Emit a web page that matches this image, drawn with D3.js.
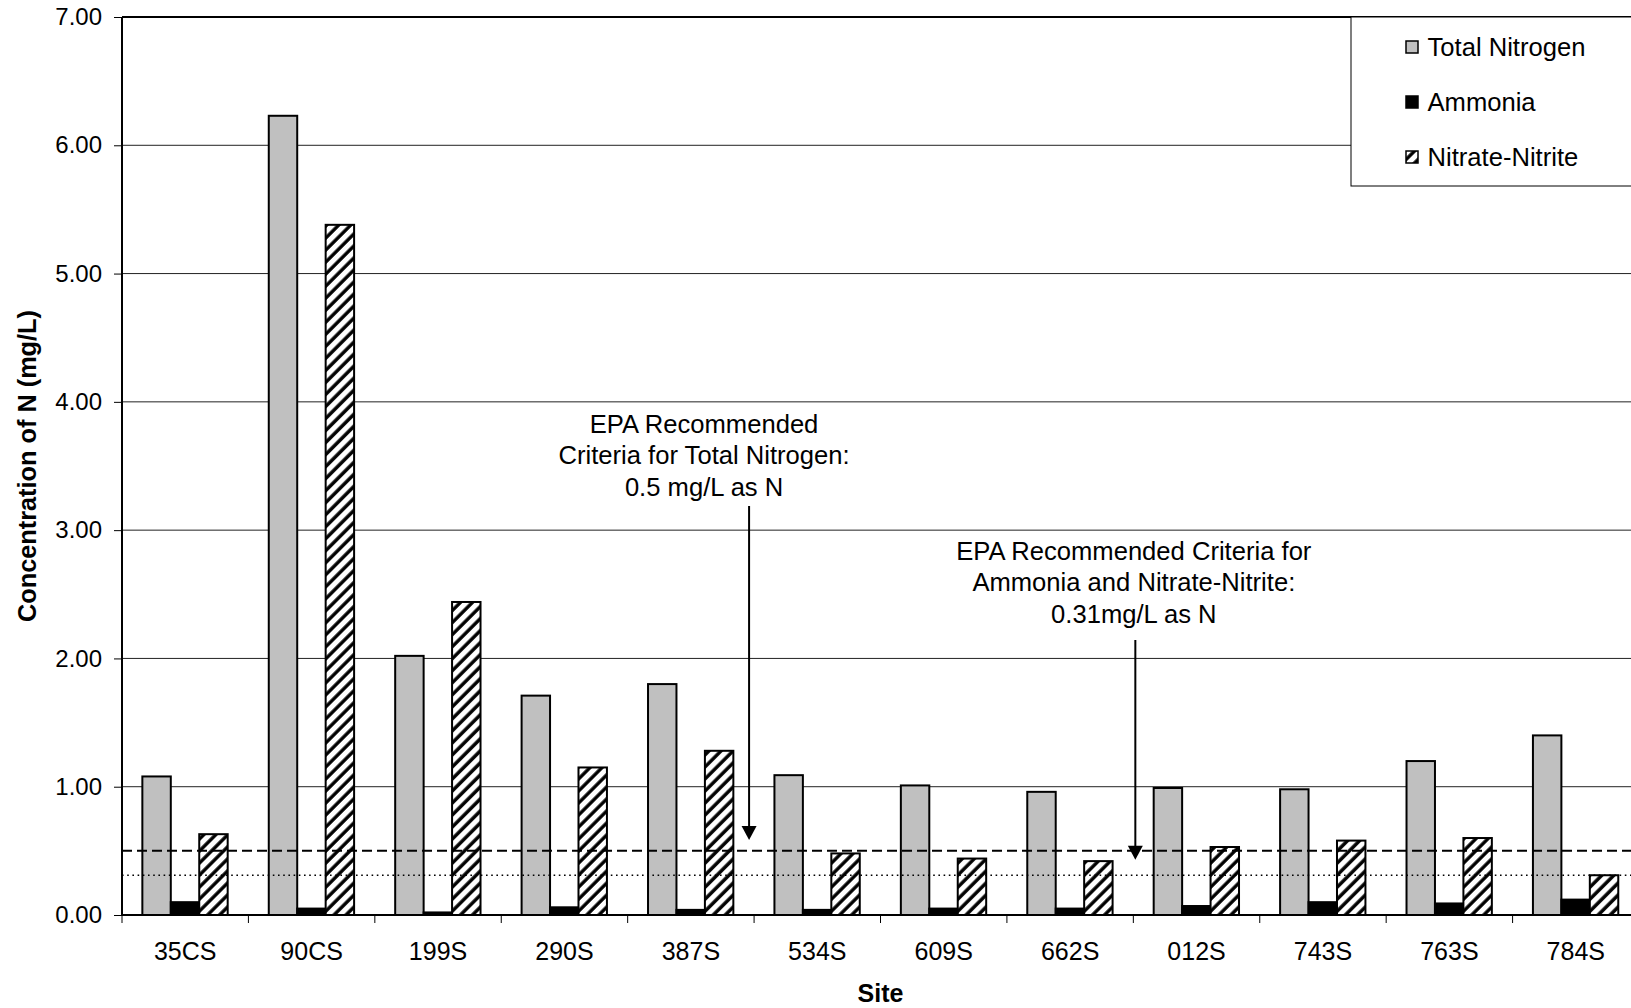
<!DOCTYPE html>
<html>
<head>
<meta charset="utf-8">
<script src="https://cdn.jsdelivr.net/npm/d3@7"></script>
<style>
  html, body { margin: 0; padding: 0; background: #fff; }
  svg { display: block; }
  text { font-family: "Liberation Sans", Arial, sans-serif; fill: #000; }
</style>
</head>
<body>
<svg id="chart" width="1631" height="1008"></svg>
<script>
// Sampling sites along the x axis
const sites = ["35CS", "90CS", "199S", "290S", "387S", "534S", "609S", "662S", "012S", "743S", "763S", "784S"];

// Concentrations of N (mg/L) per site
const totalNitrogen = [1.08, 6.23, 2.02, 1.71, 1.80, 1.09, 1.01, 0.96, 0.99, 0.98, 1.20, 1.40];
const ammonia       = [0.10, 0.05, 0.02, 0.06, 0.04, 0.04, 0.05, 0.05, 0.07, 0.10, 0.09, 0.12];
const nitrateNitrite = [0.63, 5.38, 2.44, 1.15, 1.28, 0.48, 0.44, 0.42, 0.53, 0.58, 0.60, 0.31];

const seriesNames = ["Total Nitrogen", "Ammonia", "Nitrate-Nitrite"];
const yTicks = [0, 1, 2, 3, 4, 5, 6, 7];

// EPA recommended criteria (mg/L as N)
const tnCriterion = 0.5;
const nCriterion = 0.31;

const svg = d3.select("#chart");
const W = 1631, H = 1008;
const margin = { left: 122, top: 17, bottom: 93 };
const plotRight = 1639;               // plot area runs slightly past the page edge
const plotBottom = H - margin.bottom;
const FONT = "Liberation Sans, Arial, sans-serif";

const x = d3.scaleBand().domain(sites).range([margin.left, plotRight]).paddingInner(0).paddingOuter(0);
const bw = x.bandwidth();
const xs = d3.scaleBand().domain(seriesNames).range([bw * 0.161, bw * 0.836]).padding(0);
const y = d3.scaleLinear().domain([0, 7]).range([plotBottom, margin.top]);

// Diagonal hatch for nitrate-nitrite
const defs = svg.append("defs");
const pat = defs.append("pattern")
  .attr("id", "hatch")
  .attr("patternUnits", "userSpaceOnUse")
  .attr("width", 8.5).attr("height", 8.5)
  .attr("patternTransform", "rotate(45)");
pat.append("rect").attr("width", 8.5).attr("height", 8.5).attr("fill", "#fff");
pat.append("line").attr("x1", 2).attr("y1", 0).attr("x2", 2).attr("y2", 8.5)
  .attr("stroke", "#000").attr("stroke-width", 3.4);

const fills = { "Total Nitrogen": "#c0c0c0", "Ammonia": "#000", "Nitrate-Nitrite": "url(#hatch)" };

// Gridlines
svg.append("g")
  .selectAll("line")
  .data(yTicks.filter(d => d > 0))
  .join("line")
  .attr("x1", margin.left).attr("x2", plotRight)
  .attr("y1", d => y(d)).attr("y2", d => y(d))
  .attr("stroke", "#222").attr("stroke-width", 1);

// Bars
const rows = sites.map((s, i) => ({
  site: s,
  values: [
    { key: "Total Nitrogen", v: totalNitrogen[i] },
    { key: "Ammonia", v: ammonia[i] },
    { key: "Nitrate-Nitrite", v: nitrateNitrite[i] }
  ]
}));

svg.append("g")
  .selectAll("g")
  .data(rows)
  .join("g")
  .attr("transform", d => `translate(${x(d.site)},0)`)
  .selectAll("rect")
  .data(d => d.values)
  .join("rect")
  .attr("x", d => xs(d.key))
  .attr("width", xs.bandwidth())
  .attr("y", d => y(d.v))
  .attr("height", d => y(0) - y(d.v))
  .attr("fill", d => fills[d.key])
  .attr("stroke", "#000")
  .attr("stroke-width", 2);

// Criteria lines
svg.append("line")
  .attr("x1", margin.left).attr("x2", plotRight)
  .attr("y1", y(tnCriterion)).attr("y2", y(tnCriterion))
  .attr("stroke", "#000").attr("stroke-width", 2)
  .attr("stroke-dasharray", "10,5");
svg.append("line")
  .attr("x1", margin.left).attr("x2", plotRight)
  .attr("y1", y(nCriterion)).attr("y2", y(nCriterion))
  .attr("stroke", "#000").attr("stroke-width", 1.4)
  .attr("stroke-dasharray", "1.6,3.6");

// Plot frame along the top
svg.append("path")
  .attr("d", `M${margin.left},${y(7)}H${plotRight}`)
  .attr("stroke", "#000").attr("stroke-width", 2).attr("fill", "none");

// Y axis
const yAxis = d3.axisLeft(y)
  .tickValues(yTicks)
  .tickSize(8)
  .tickPadding(12)
  .tickFormat(d3.format(".2f"));
const gy = svg.append("g").attr("transform", `translate(${margin.left},0)`).call(yAxis);
gy.select(".domain").attr("stroke-width", 2).attr("d", `M0,${y(7)}V${y(0)}`);
gy.selectAll(".tick line").attr("stroke-width", 1);
gy.selectAll(".tick text").attr("font-size", 24).attr("font-family", FONT);

// X axis: labels at band centres, ticks at band boundaries
const xAxis = d3.axisBottom(x).tickSize(0).tickPadding(27);
const gx = svg.append("g").attr("transform", `translate(0,${y(0)})`).call(xAxis);
gx.select(".domain").attr("stroke-width", 2).attr("d", `M${margin.left},0H${plotRight}`);
gx.selectAll(".tick text").attr("font-size", 25).attr("font-family", FONT);
svg.append("g")
  .selectAll("line")
  .data(sites)
  .join("line")
  .attr("x1", d => x(d)).attr("x2", d => x(d))
  .attr("y1", y(0)).attr("y2", y(0) + 8)
  .attr("stroke", "#000").attr("stroke-width", 1);

// Axis titles
svg.append("text")
  .attr("x", (margin.left + plotRight) / 2)
  .attr("y", 1002)
  .attr("text-anchor", "middle")
  .attr("font-size", 25).attr("font-weight", "bold")
  .text("Site");
svg.append("text")
  .attr("transform", `translate(36,${(y(0) + y(7)) / 2}) rotate(-90)`)
  .attr("text-anchor", "middle")
  .attr("font-size", 25.3).attr("font-weight", "bold")
  .text("Concentration of N (mg/L)");

// Annotations with arrows
const annotations = [
  { lines: ["EPA Recommended", "Criteria for Total Nitrogen:", "0.5 mg/L as N"],
    cx: x("534S") - 50, top: 433, ax: x("534S") - 5, ay1: 506, tip: 0.585 },
  { lines: ["EPA Recommended Criteria for", "Ammonia and Nitrate-Nitrite:", "0.31mg/L as N"],
    cx: x("012S") + 0.5, top: 560, ax: x("012S") + 2, ay1: 640, tip: 0.43 }
];
annotations.forEach(a => {
  const t = svg.append("text").attr("text-anchor", "middle").attr("font-size", 25.6);
  a.lines.forEach((ln, i) => {
    t.append("tspan").attr("x", a.cx).attr("y", a.top + i * 31.3).text(ln);
  });
  const tipY = y(a.tip);
  svg.append("line")
    .attr("x1", a.ax).attr("x2", a.ax)
    .attr("y1", a.ay1).attr("y2", tipY - 12)
    .attr("stroke", "#000").attr("stroke-width", 2);
  svg.append("path")
    .attr("d", `M${a.ax - 7.5},${tipY - 14}L${a.ax + 7.5},${tipY - 14}L${a.ax},${tipY}Z`)
    .attr("fill", "#000");
});

// Legend
const lg = svg.append("g");
lg.append("rect")
  .attr("x", 1351).attr("y", margin.top)
  .attr("width", 320).attr("height", 169)
  .attr("fill", "#fff").attr("stroke", "#000").attr("stroke-width", 1);
seriesNames.forEach((name, i) => {
  const cy = 47 + i * 55;
  lg.append("rect")
    .attr("x", 1406).attr("y", cy - 6)
    .attr("width", 12).attr("height", 12)
    .attr("fill", fills[name]).attr("stroke", "#000").attr("stroke-width", 1.5);
  lg.append("text")
    .attr("x", 1427.5).attr("y", cy + 9)
    .attr("font-size", 25.6)
    .text(name);
});
</script>
</body>
</html>
